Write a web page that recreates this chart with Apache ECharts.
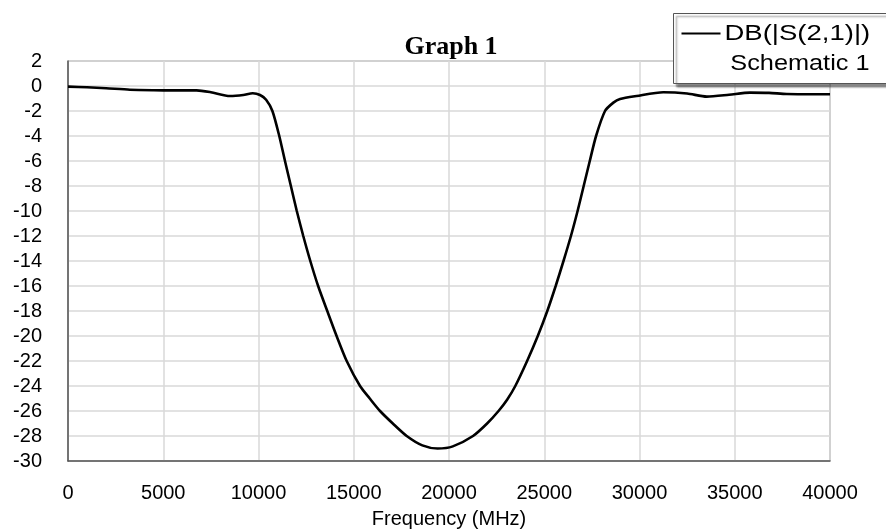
<!DOCTYPE html>
<html>
<head>
<meta charset="utf-8">
<script src="https://cdn.jsdelivr.net/npm/echarts@6/dist/echarts.min.js"></script>
<style>
html,body{margin:0;padding:0;background:#fff;}
#chart{width:886px;height:529px;}
</style>
</head>
<body>
<div id="chart"></div>
<script>
const titleText = "Graph 1";
const xAxisName = "Frequency (MHz)";
const seriesName = "DB(|S(2,1)|)";
const seriesSource = "Schematic 1";
const freqMHz = [0,1000,2000,3250,4500,5500,6750,7500,8500,9200,9700,10080,10400,10730,11090,11390,11700,12010,12350,12720,13130,13610,14100,14630,15330,15840,16380,17050,17780,18600,19400,20200,21260,22000,22600,23050,23480,24100,24660,25160,25600,26010,26400,26750,27070,27390,27720,28190,28630,28980,29850,31250,32500,33530,34700,35800,36800,37730,40000];
const s21dB = [-0.05,-0.1,-0.18,-0.3,-0.34,-0.35,-0.35,-0.5,-0.8,-0.72,-0.58,-0.72,-1.1,-2,-4,-6,-8,-10,-12,-14,-16,-18,-20,-22,-24,-25,-26,-27,-28,-28.75,-29.0,-28.83,-28,-27,-26,-25.1,-24,-22,-20,-18,-16,-14,-12,-10,-8,-6,-4,-2,-1.33,-1.04,-0.8,-0.5,-0.6,-0.85,-0.7,-0.53,-0.55,-0.64,-0.66];

const chart = echarts.init(document.getElementById('chart'), null, {renderer:'canvas'});
const font = '"Liberation Sans", Arial, sans-serif';
chart.setOption({
  animation:false,
  backgroundColor:'#fff',
  title:{text:titleText,left:446,top:29,textAlign:'center',
    textStyle:{fontFamily:'"Liberation Serif", "Times New Roman", serif',fontWeight:'bold',fontSize:26,color:'#000'}},
  grid:{left:68,right:56,top:61,bottom:68,containLabel:false,outerBoundsMode:'none',show:true,borderColor:'#7a7a7a',borderWidth:1,backgroundColor:'transparent'},
  xAxis:{type:'value',min:0,max:40000,interval:5000,
    name:xAxisName,nameLocation:'middle',nameGap:48,
    nameTextStyle:{fontFamily:font,fontSize:20,color:'#000'},
    axisLine:{show:true,onZero:false,lineStyle:{color:'#555',width:1.5}},
    axisTick:{show:false},
    axisLabel:{margin:22,fontFamily:font,fontSize:20,color:'#000',formatter:v=>String(v)},
    splitLine:{show:true,lineStyle:{color:'#d9d9d9',width:1.5}}},
  yAxis:{type:'value',min:-30,max:2,interval:2,
    axisLine:{show:true,onZero:false,lineStyle:{color:'#555',width:1.5}},
    axisTick:{show:false},
    axisLabel:{margin:26,fontFamily:font,fontSize:20,color:'#000',formatter:v=>String(v)},
    splitLine:{show:true,lineStyle:{color:'#d9d9d9',width:1.5}}},
  series:[{name:seriesName,type:'line',showSymbol:false,symbol:'none',smooth:0.25,
    lineStyle:{color:'#000',width:2.6},
    data:freqMHz.map((f,i)=>[f,s21dB[i]])}],
  graphic:[{
    type:'group',left:673,top:13,z:100,
    children:[
      {type:'rect',z:100,shape:{x:0,y:0,width:213,height:70},
        style:{fill:'#fff',stroke:'#555',lineWidth:1,shadowColor:'rgba(0,0,0,0.45)',shadowOffsetX:3,shadowOffsetY:3,shadowBlur:2}},
      {type:'line',z:101,shape:{x1:8,y1:20,x2:47,y2:20},style:{stroke:'#000',lineWidth:2}},
      {type:'text',z:101,x:51,y:20,scaleX:1.25,style:{text:seriesName,fontFamily:font,fontSize:22,fill:'#000',verticalAlign:'middle'}},
      {type:'text',z:101,x:196,y:50,scaleX:1.15,style:{text:seriesSource,fontFamily:font,fontSize:22,fill:'#000',align:'right',verticalAlign:'middle'}}
    ]
  }]
});
</script>
</body>
</html>
